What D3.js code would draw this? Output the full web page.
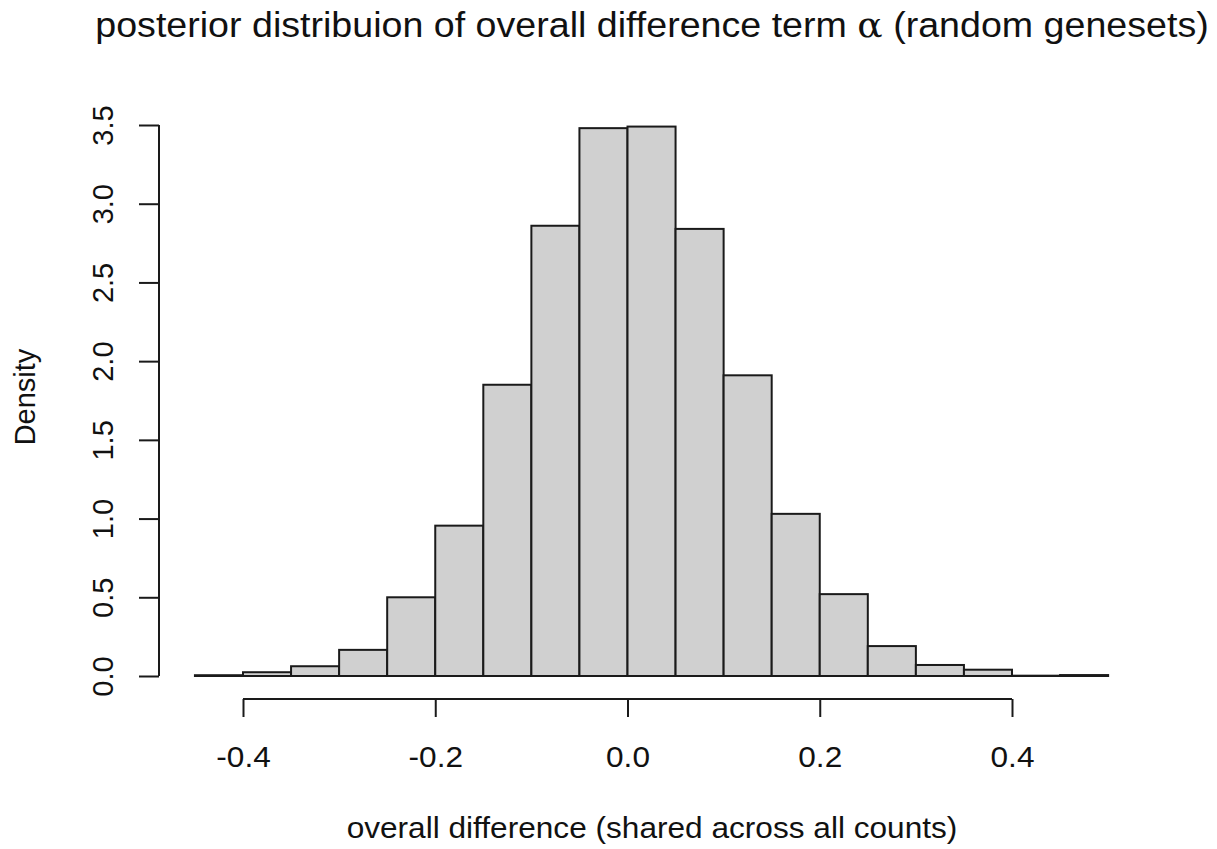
<!DOCTYPE html>
<html>
<head>
<meta charset="utf-8">
<script src="https://cdn.jsdelivr.net/npm/d3@7"></script>
<style>
  body { margin: 0; background: #fff; }
  text { font-family: "Liberation Sans", Arial, sans-serif; fill: #111; }
</style>
</head>
<body>
<div id="chart"></div>
<script>
// bin edges (left) and density per bin
var binStarts = [-0.45, -0.40, -0.35, -0.30, -0.25, -0.20, -0.15, -0.10, -0.05, 0.00,
                 0.05, 0.10, 0.15, 0.20, 0.25, 0.30, 0.35, 0.40, 0.45];
var densities = [0.005, 0.024, 0.062, 0.166, 0.50, 0.955, 1.85, 2.86, 3.48, 3.49,
                 2.84, 1.91, 1.03, 0.52, 0.19, 0.07, 0.04, 0.002, 0.006];
var binWidth = 0.05;
var xTicks = [-0.4, -0.2, 0.0, 0.2, 0.4];
var yTicks = [0.0, 0.5, 1.0, 1.5, 2.0, 2.5, 3.0, 3.5];

var W = 1217, H = 849;
var stretch = 'scale(1.09,1)'; // the R output is a bit wide horizontally

var data = binStarts.map(function(b, i) { return {x0: b, x1: b + binWidth, d: densities[i]}; });

// scales
var x = d3.scaleLinear().domain([-0.4, 0.4]).range([243, 1012]);
var y = d3.scaleLinear().domain([0, 3.5]).range([676, 125]);

var svg = d3.select('#chart')
    .append('svg')
    .attr('width', W)
    .attr('height', H);

// bars
svg.append('g')
    .selectAll('rect')
    .data(data)
    .enter().append('rect')
    .attr('x', function(d) { return x(d.x0); })
    .attr('y', function(d) { return y(d.d); })
    .attr('width', function(d) { return x(d.x1) - x(d.x0); })
    .attr('height', function(d) { return y(0) - y(d.d); })
    .attr('fill', '#d0d0d0')
    .attr('stroke', '#1a1a1a')
    .attr('stroke-width', 2);

// x axis (R style, offset below the plot)
var xAxis = svg.append('g')
    .attr('transform', 'translate(0,699)')
    .call(d3.axisBottom(x)
        .tickValues(xTicks)
        .tickFormat(function(d) { return d.toFixed(1); })
        .tickSize(18));
xAxis.select('.domain').attr('d', 'M' + x(-0.4) + ',0H' + x(0.4));
xAxis.selectAll('.tick text')
    .attr('y', 68)
    .attr('dy', 0)
    .attr('transform', stretch);

// y axis
var yAxis = svg.append('g')
    .attr('transform', 'translate(159,0)')
    .call(d3.axisLeft(y)
        .tickValues(yTicks)
        .tickFormat(d3.format('.1f'))
        .tickSize(20));
yAxis.select('.domain').attr('d', 'M0,' + y(0) + 'V' + y(3.5));
yAxis.selectAll('.tick text')
    .attr('transform', 'rotate(-90)')
    .attr('x', 0)
    .attr('y', -46)
    .attr('dy', 0)
    .style('text-anchor', 'middle');

svg.selectAll('.domain, .tick line')
    .attr('stroke', '#1a1a1a')
    .attr('stroke-width', 2);
svg.selectAll('.tick text')
    .attr('font-size', 29)
    .attr('font-family', '"Liberation Sans", Arial, sans-serif')
    .attr('fill', '#111');

// axis labels
svg.append('text')
    .attr('transform', 'rotate(-90)')
    .attr('x', -397)
    .attr('y', 35)
    .style('text-anchor', 'middle')
    .style('font-size', '29px')
    .text('Density');

svg.append('text')
    .attr('transform', 'translate(652,838) ' + stretch)
    .style('text-anchor', 'middle')
    .style('font-size', '29px')
    .text('overall difference (shared across all counts)');

// title
var title = svg.append('text')
    .attr('transform', 'translate(652,37) ' + stretch)
    .style('text-anchor', 'middle')
    .style('font-size', '34.5px');
title.append('tspan').text('posterior distribuion of overall difference term ');
title.append('tspan').style('font-family', '"DejaVu Serif", serif').text('\u03b1');
title.append('tspan').text(' (random genesets)');
</script>
</body>
</html>
